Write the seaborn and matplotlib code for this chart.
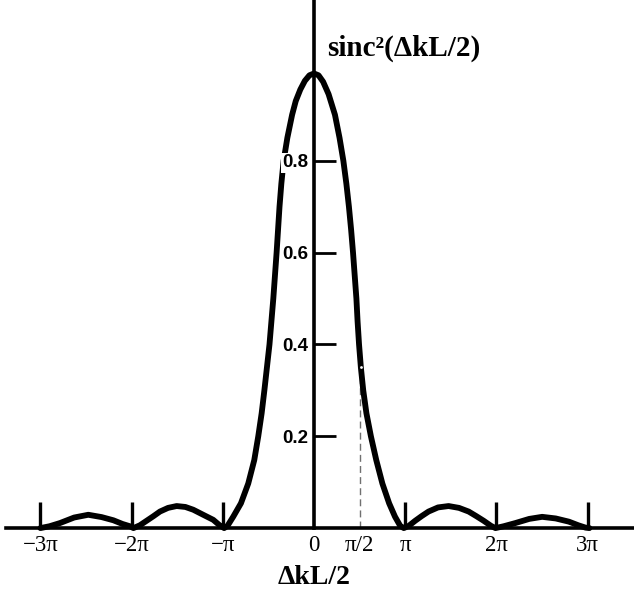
import matplotlib
matplotlib.use("Agg")
import matplotlib.pyplot as plt
import seaborn as sns
import pandas as pd

# ---- data (x in units of pi) ----
x_pi = [-3.00, -2.90, -2.785, -2.63, -2.475, -2.33, -2.20, -2.10, -2.018, -1.98,
        -1.91, -1.835, -1.76, -1.689, -1.60, -1.506, -1.41, -1.324, -1.215, -1.105, -1.04, -0.985,
        -0.948, -0.885, -0.801, -0.721, -0.655, -0.611, -0.574, -0.544, -0.516,
        -0.488, -0.446, -0.410, -0.378, -0.358, -0.333, -0.292, -0.240, -0.20, -0.15,
        -0.10, -0.05, 0.00,
        0.05, 0.10, 0.160, 0.230, 0.280, 0.322, 0.355, 0.383, 0.407, 0.428,
        0.465, 0.478, 0.494, 0.514, 0.540, 0.575, 0.624, 0.683, 0.750, 0.824,
        0.888, 0.945, 0.985,
        1.04, 1.11, 1.18, 1.256, 1.36, 1.476, 1.59, 1.696, 1.78, 1.86, 1.94, 1.99,
        2.08, 2.209, 2.36, 2.502, 2.65, 2.795, 2.90, 2.978, 3.02]
sinc2 = [0.000, 0.004, 0.011, 0.023, 0.029, 0.024, 0.017, 0.009, 0.004, 0.000,
         0.006, 0.016, 0.026, 0.036, 0.044, 0.048, 0.046, 0.040, 0.029, 0.018, 0.007, 0.000,
         0.005, 0.025, 0.054, 0.097, 0.148, 0.200, 0.250, 0.300, 0.350,
         0.400, 0.500, 0.600, 0.700, 0.750, 0.800, 0.850, 0.900, 0.930, 0.955,
         0.974, 0.986, 0.990,
         0.986, 0.972, 0.945, 0.900, 0.850, 0.800, 0.750, 0.700, 0.650, 0.600,
         0.500, 0.450, 0.400, 0.350, 0.300, 0.250, 0.200, 0.148, 0.097, 0.054,
         0.025, 0.005, 0.000,
         0.005, 0.016, 0.026, 0.036, 0.045, 0.048, 0.044, 0.036, 0.026, 0.016, 0.005, 0.000,
         0.004, 0.011, 0.020, 0.0245, 0.021, 0.014, 0.006, 0.001, 0.000]

xtick_pos = [-3, -2, -1, 0, 0.5, 1, 2, 3]
xtick_labels = ["\u22123\u03c0", "\u22122\u03c0", "\u2212\u03c0", "0", "\u03c0/2", "\u03c0", "2\u03c0", "3\u03c0"]
ytick_pos = [0.2, 0.4, 0.6, 0.8]
ytick_labels = ["0.2", "0.4", "0.6", "0.8"]

dash_x = [0.5]
dash_top = [0.35]
dot_x = [0.514]
dot_y = [0.35]

y_title = "sinc\u00b2(\u0394kL/2)"
x_title = "\u0394kL/2"

# ---- drawing ----
sns.set_style("white")
plt.rcParams["font.family"] = ["Liberation Serif", "DejaVu Serif"]
plt.rcParams["text.color"] = "black"
plt.rcParams["xtick.color"] = "black"
plt.rcParams["ytick.color"] = "black"

fig = plt.figure(figsize=(6.34, 5.91), dpi=100)
ax = fig.add_axes([0, 0, 1, 1])
ax.set_xlim(-3.443, 3.509)
ax.set_ylim(-0.137, 1.150)

df = pd.DataFrame({"x": x_pi, "y": sinc2})
sns.lineplot(data=df, x="x", y="y", color="black", linewidth=4.2,
             sort=False, ax=ax, solid_capstyle="round", solid_joinstyle="round", zorder=2)

ax.vlines(dash_x, 0, dash_top, colors="#707070", linewidth=1.0,
          linestyles=(0, (5, 3)), zorder=1.5)
ax.scatter(dot_x, dot_y, s=4, color="white", zorder=3, linewidths=0)

# spines through origin
for s in ["top", "right"]:
    ax.spines[s].set_visible(False)
ax.spines["left"].set_position(("data", 0))
ax.spines["bottom"].set_position(("data", 0))
ax.spines["left"].set_bounds(0, 1.150)
ax.spines["bottom"].set_bounds(-3.377, 3.509)
for s in ["left", "bottom"]:
    ax.spines[s].set_linewidth(2.6)
    ax.spines[s].set_color("black")
    ax.spines[s].set_visible(True)
    ax.spines[s].set_zorder(2.2)

ax.set_xticks(xtick_pos)
ax.set_xticklabels(xtick_labels, fontsize=16.5, color="black",
                   family=["Liberation Serif", "DejaVu Serif"])
ax.set_yticks(ytick_pos)
ax.set_yticklabels(ytick_labels, fontsize=13.5, fontweight="bold", color="black",
                   family=["Liberation Sans", "DejaVu Sans"])
ax.tick_params(axis="x", which="major", bottom=True, direction="in", length=18.5,
               width=2.4, pad=5, color="black", labelcolor="black")
ax.tick_params(axis="y", which="major", left=True, direction="in", length=16,
               width=2.0, pad=4, color="black", labelcolor="black")
ax.set_axisbelow(False)
for i, t in enumerate(ax.xaxis.get_major_ticks()):
    if xtick_pos[i] in (0, 0.5):
        t.tick1line.set_visible(False)
for lbl in ax.get_yticklabels():
    lbl.set_bbox(dict(facecolor="white", edgecolor="none", pad=1))
ax.set_xlabel("")
ax.set_ylabel("")

ax.text(0.143, 1.044, y_title, fontsize=21, fontweight="bold", color="black",
        ha="left", va="center", family=["Liberation Serif", "DejaVu Serif"])
ax.text(0.0, -0.107, x_title, fontsize=20, fontweight="bold", color="black",
        ha="center", va="center", family=["Liberation Serif", "DejaVu Serif"])

fig.savefig("out.png", dpi=100, facecolor="white")
